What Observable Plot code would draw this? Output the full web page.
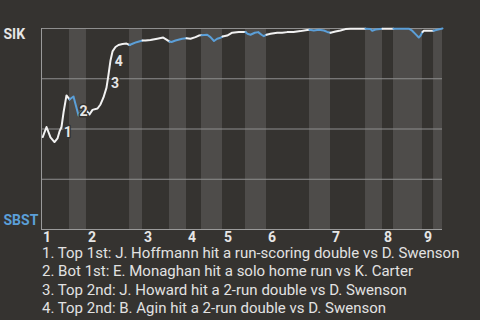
<!DOCTYPE html>
<html><head><meta charset="utf-8">
<script src="https://cdn.jsdelivr.net/npm/d3@7"></script>
<script src="https://cdn.jsdelivr.net/npm/@observablehq/plot@0.6"></script>
<style>
html,body{margin:0;padding:0;background:#353330;}
body{width:480px;height:320px;overflow:hidden;font-family:Roboto,sans-serif;}
#chart svg{display:block;overflow:visible;}
#caption{padding-left:42px;margin-top:-3px;color:#e2e2e2;font-size:15px;line-height:18.3px;white-space:nowrap;}
</style></head><body>
<div id="chart"></div>
<div id="caption"></div>
<script>
// Game progress (0-100) where each half-inning starts; last value = end of game
const halfInningBounds = [0, 6.98, 11.22, 21.95, 25.19, 31.92, 36.16, 39.9, 45.14, 50.87, 56.11, 66.83, 72.07, 80.8, 85.04, 87.78, 95.01, 97.76, 100];
const inningLabels = ["1","2","3","4","5","6","7","8","9"];
const teamTop = "SIK";
const teamBottom = "SBST";

// Win probability for SIK (%) along the game progress
const progress = [0.3,1.25,2.24,3.24,3.99,4.49,4.99,5.49,6.23,6.98,
  7.98,9.23,9.98,10.5,11.22,
  11.97,12.72,13.97,14.71,15.46,16.21,16.71,17.21,17.71,18.45,19.2,20.2,21.2,21.95,
  22.69,23.69,25.19,
  25.94,27.18,28.85,30.35,31.17,31.92,
  32.42,33.42,35.09,36.16,
  37.16,38.4,39.23,39.9,
  41.32,42.14,43.02,43.82,44.64,45.14,
  46.31,47.56,49.2,50.87,
  51.37,52.12,53.19,54.04,54.86,55.44,56.11,
  57.11,58.78,60.02,61.27,62.84,64.59,66.26,66.83,
  67.91,69.15,70.4,71.25,72.07,
  73.32,74.56,75.81,77.06,78.73,80.8,
  82.04,82.47,83.29,85.04,
  87.78,
  89.53,91.6,92.44,93.27,94.09,94.51,95.01,
  95.34,97.76,
  98.68,100];
const winProb = [46,51.0,45.8,43.5,45.3,48.8,51.0,58.2,66.7,64.7,
  66.2,56.7,58.7,59.2,59.2,
  57.2,59.5,60.2,62.2,65.7,70.6,77.1,84.1,88.6,90.8,91.8,92.3,92.5,91.8,
  92.4,93.2,94.0,
  94.0,94.3,94.9,95.5,94.5,93.5,
  93.3,94.0,94.9,95.2,
  94.9,95.7,96.5,96.7,
  96.9,95.7,93.8,94.9,95.4,96.0,
  96.5,97.9,98.2,98.2,
  97.4,96.9,97.9,98.2,96.9,96.2,96.9,
  97.4,97.9,97.9,98.2,98.3,98.7,99.3,99.4,
  99.0,99.4,99.0,98.3,97.9,
  98.5,99.0,99.7,99.9,99.9,99.9,
  99.7,98.9,99.5,99.9,
  99.9,
  99.9,99.9,98.9,97.2,95.5,96.4,98.3,
  98.9,98.9,
  99.4,100];

// Key events
const eventNumbers = ["1","2","3","4"];
const eventProgress = [4.81, 8.73, 16.61, 17.53];
const eventWinProb = [50.4, 60.7, 74.6, 85.6];
const eventTexts = [
  "1. Top 1st: J. Hoffmann hit a run-scoring double vs D. Swenson",
  "2. Bot 1st: E. Monaghan hit a solo home run vs K. Carter",
  "3. Top 2nd: J. Howard hit a 2-run double vs D. Swenson",
  "4. Top 2nd: B. Agin hit a 2-run double vs D. Swenson"
];

const gridValues = [25, 50, 75, 100];

const bg = "#353330";
const white = "#f2f2f2";
const blue = "#5b9fd8";

// build tables
const halves = d3.range(halfInningBounds.length - 1).map(i => ({i, x1: halfInningBounds[i], x2: halfInningBounds[i+1], bottom: i % 2 === 1}));
const points = progress.map((x, k) => ({x, y: winProb[k]}));
const segments = [];
halves.forEach(h => {
  points.forEach(p => {
    if (p.x >= h.x1 - 1e-9 && p.x <= h.x2 + 1e-9) segments.push({x: p.x, y: p.y, half: h.i, color: h.bottom ? blue : white});
  });
});
const inningStarts = inningLabels.map((t, k) => ({x: halfInningBounds[2*k], t}));
const events = eventNumbers.map((n, k) => ({n, x: eventProgress[k], y: eventWinProb[k]}));
const teams = [{y: 100, t: teamTop, c: "#e6e6e6"}, {y: 0, t: teamBottom, c: blue}];

const chart = Plot.plot({
  width: 480, height: 247,
  marginTop: 28, marginBottom: 18, marginLeft: 41, marginRight: 38,
  x: {domain: [0, 100], axis: null},
  y: {domain: [0, 100], axis: null},
  color: {type: "identity"},
  style: {background: "transparent", fontFamily: "Roboto, sans-serif", overflow: "visible"},
  marks: [
    Plot.rect(halves.filter(h => h.bottom), {x1: "x1", x2: "x2", y1: 0, y2: 100, fill: "#4e4c4a"}),
    Plot.ruleY(gridValues, {stroke: "#8e8e8e", strokeWidth: 1}),
    Plot.ruleY([0], {stroke: "#9a9a9a", strokeWidth: 1}),
    Plot.ruleX([0], {stroke: "#9a9a9a", strokeWidth: 1}),
    Plot.line(segments, {x: "x", y: "y", z: "half", stroke: "color", strokeWidth: 2}),
    Plot.text(events, {x: "x", y: "y", text: "n", textAnchor: "start", dx: 3, dy: 4, fontWeight: "bold", fontSize: 14, fill: "#e6e6e6", stroke: bg, strokeWidth: 3}),
    Plot.text(inningStarts, {x: "x", text: "t", frameAnchor: "bottom", textAnchor: "start", lineAnchor: "top", dx: 1.5, dy: 3, fontWeight: "bold", fontSize: 14, fill: "#e6e6e6"}),
    Plot.text(teams.slice(0,1), {y: "y", text: "t", frameAnchor: "left", textAnchor: "start", lineAnchor: "top", dx: -38, dy: 1, fontWeight: "bold", fontSize: 14, fill: "c"}),
    Plot.text(teams.slice(1), {y: "y", text: "t", frameAnchor: "left", textAnchor: "start", lineAnchor: "top", dx: -38, dy: -14.7, fontWeight: "bold", fontSize: 14, fill: "c"})
  ]
});
document.getElementById("chart").appendChild(chart);
const cap = document.getElementById("caption");
eventTexts.forEach(t => { const d = document.createElement("div"); d.textContent = t; cap.appendChild(d); });
</script>
</body></html>
